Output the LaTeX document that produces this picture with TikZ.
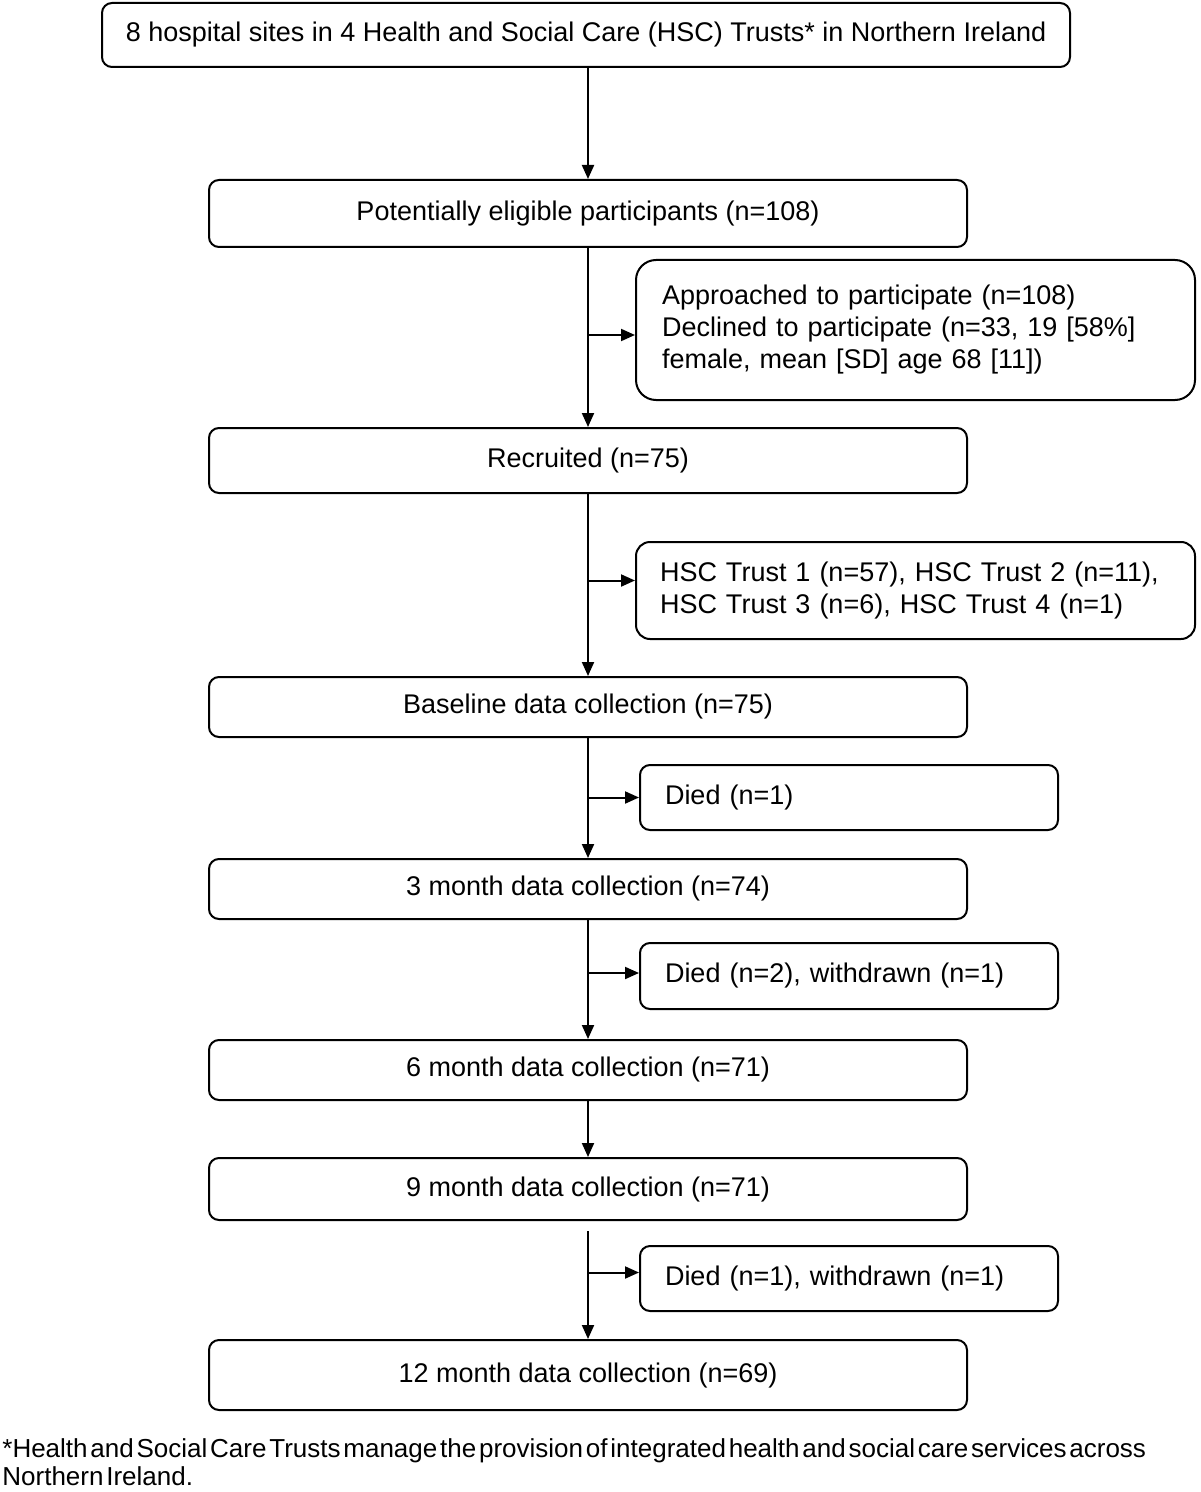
\documentclass[tikz,border=0pt]{standalone}
\usepackage{fontspec}
\setmainfont{Liberation Sans}
\usetikzlibrary{arrows.meta,calc}
\newcommand{\tightspaces}{\spaceskip=1.4pt\relax}
\begin{document}
\begin{tikzpicture}[x=0.5pt,y=-0.5pt,
  font=\fontsize{13.5pt}{16pt}\selectfont,
  mainbox/.style={draw, line width=1pt, rounded corners=5pt, inner sep=0pt,
    minimum width=379pt, align=center},
  sidebox/.style={draw, line width=1pt, rounded corners=5pt, inner ysep=0pt, align=left},
  arr/.style={line width=1pt, -{Triangle[length=7pt,width=6pt]}}]
\useasboundingbox (0,0) rectangle (1200,1492);
\node[mainbox, minimum width=484pt, minimum height=32pt] (top) at (586,35)
  {8 hospital sites in 4 Health and Social Care (HSC) Trusts* in Northern Ireland};
\node[mainbox, minimum height=33.5pt] (pot) at (588,213.5) {Potentially eligible participants (n=108)};
\node[sidebox, rounded corners=10pt, inner xsep=13pt, text width=253.5pt, minimum height=70pt] (appr) at (915.5,330)
  {Approached to participate (n=108)\\Declined to participate (n=33, 19 [58\%]\\female, mean [SD] age 68 [11])\\[13pt]};
\node[mainbox, minimum height=32.5pt] (rec) at (588,460.5) {Recruited (n=75)};
\node[sidebox, rounded corners=7pt, inner xsep=12pt, text width=255.5pt, minimum height=48.5pt] (hsc) at (915.5,590.5)
  {HSC Trust 1 (n=57), HSC Trust 2 (n=11),\\HSC Trust 3 (n=6), HSC Trust 4 (n=1)};
\node[mainbox, minimum height=30pt] (base) at (588,707) {Baseline data collection (n=75)};
\node[sidebox, inner xsep=12.5pt, text width=184pt, minimum height=32.5pt] (d1) at (849,797.5) {Died (n=1)};
\node[mainbox, minimum height=30pt] (m3) at (588,889) {3 month data collection (n=74)};
\node[sidebox, inner xsep=12.5pt, text width=184pt, minimum height=33pt] (d2) at (849,976) {Died (n=2), withdrawn (n=1)};
\node[mainbox, minimum height=30pt] (m6) at (588,1070) {6 month data collection (n=71)};
\node[mainbox, minimum height=31pt] (m9) at (588,1189) {9 month data collection (n=71)};
\node[sidebox, inner xsep=12.5pt, text width=184pt, minimum height=32.5pt] (d3) at (849,1278.5) {Died (n=1), withdrawn (n=1)};
\node[mainbox, minimum height=35pt] (m12) at (588,1375) {12 month data collection (n=69)};
\node[anchor=north west, inner sep=0pt, align=left, font=\fontsize{13pt}{14pt}\selectfont\tightspaces] (foot) at (2,1438)
  {*Health and Social Care Trusts manage the provision of integrated health and social care services across\\Northern Ireland.};
\coordinate (b1) at ($(appr.west)+(0,5)$);
\coordinate (b2) at ($(hsc.west)+(0,-10)$);
\coordinate (b3) at (d1.west);
\coordinate (b4) at ($(d2.west)+(0,-3)$);
\coordinate (b5) at ($(d3.west)+(0,-6)$);
\draw[arr] (top.south -| pot.south) -- (pot.north);
\draw[arr] (pot.south) -- (rec.north);
\draw[arr] (pot.south |- b1) -- (b1);
\draw[arr] (rec.south) -- (base.north);
\draw[arr] (rec.south |- b2) -- (b2);
\draw[arr] (base.south) -- (m3.north);
\draw[arr] (base.south |- b3) -- (b3);
\draw[arr] (m3.south) -- (m6.north);
\draw[arr] (m3.south |- b4) -- (b4);
\draw[arr] (m6.south) -- (m9.north);
\draw[arr] ($(m9.south)+(0,10)$) -- (m12.north);
\draw[arr] (m9.south |- b5) -- (b5);
\end{tikzpicture}
\end{document}
